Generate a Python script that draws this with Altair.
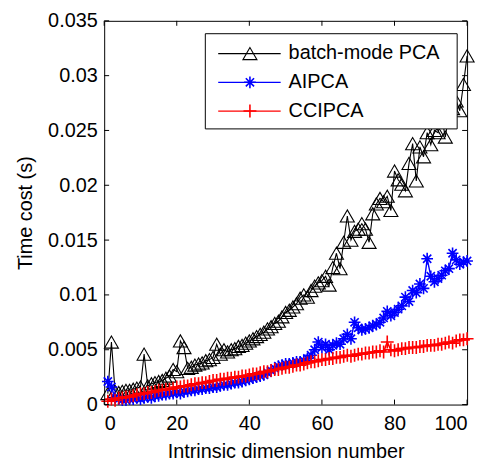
import altair as alt
import pandas as pd

x_vals = list(range(1, 101))

batch_pca = [
    0.0010, 0.0057, 0.0012, 0.0011, 0.0012, 0.0013, 0.0013, 0.0014, 0.0015, 0.0016,
    0.0046, 0.0017, 0.0019, 0.0020, 0.0021, 0.0022, 0.0024, 0.0026, 0.0032, 0.0030,
    0.0058, 0.0052, 0.0033, 0.0034, 0.0036, 0.0037, 0.0038, 0.0040, 0.0041, 0.0043,
    0.0055, 0.0046, 0.0050, 0.0048, 0.0050, 0.0051, 0.0053, 0.0054, 0.0056, 0.0058,
    0.0060, 0.0062, 0.0064, 0.0066, 0.0069, 0.0071, 0.0074, 0.0076, 0.0080, 0.0084,
    0.0086, 0.0089, 0.0092, 0.0097, 0.0100, 0.0098, 0.0104, 0.0108, 0.0111, 0.0113,
    0.0117, 0.0109, 0.0125, 0.0138, 0.0124, 0.0148, 0.0172, 0.0150, 0.0158, 0.0160,
    0.0165, 0.0160, 0.0148, 0.0174, 0.0183, 0.0188, 0.0185, 0.0190, 0.0177, 0.0213,
    0.0205, 0.0201, 0.0195, 0.0220, 0.0238, 0.0204, 0.0235, 0.0226, 0.0248, 0.0237,
    0.0250, 0.0248, 0.0262, 0.0244, 0.0265, 0.0270, 0.0277, 0.0268, 0.0292, 0.0318,
]

aipca = [
    0.0021, 0.0016, 0.0006, 0.0005, 0.0004, 0.0004, 0.0005, 0.0005, 0.0006, 0.0005,
    0.0006, 0.0007, 0.0006, 0.0008, 0.0008, 0.0009, 0.0009, 0.0010, 0.0010, 0.0011,
    0.0010, 0.0012, 0.0012, 0.0013, 0.0013, 0.0014, 0.0014, 0.0015, 0.0015, 0.0016,
    0.0016, 0.0017, 0.0018, 0.0018, 0.0019, 0.0020, 0.0020, 0.0021, 0.0022, 0.0023,
    0.0024, 0.0025, 0.0026, 0.0027, 0.0029, 0.0031, 0.0033, 0.0035, 0.0036, 0.0037,
    0.0037, 0.0038, 0.0039, 0.0039, 0.0040, 0.0042, 0.0045, 0.0050, 0.0057, 0.0052,
    0.0055, 0.0050, 0.0054, 0.0056, 0.0055, 0.0060, 0.0064, 0.0060, 0.0075, 0.0070,
    0.0068, 0.0069, 0.0070, 0.0072, 0.0073, 0.0075, 0.0079, 0.0085, 0.0081, 0.0084,
    0.0087, 0.0090, 0.0098, 0.0094, 0.0104, 0.0102, 0.0110, 0.0106, 0.0133, 0.0117,
    0.0112, 0.0115, 0.0118, 0.0122, 0.0124, 0.0138, 0.0132, 0.0128, 0.0130, 0.0131,
]

ccipca = [
    0.0003, 0.0005, 0.0004, 0.0006, 0.0006, 0.0007, 0.0007, 0.0008, 0.0009, 0.0010,
    0.0010, 0.0011, 0.0011, 0.0012, 0.0013, 0.0013, 0.0014, 0.0014, 0.0015, 0.0016,
    0.0016, 0.0017, 0.0017, 0.0018, 0.0019, 0.0019, 0.0020, 0.0020, 0.0021, 0.0022,
    0.0022, 0.0023, 0.0023, 0.0024, 0.0024, 0.0025, 0.0025, 0.0026, 0.0026, 0.0027,
    0.0028, 0.0028, 0.0029, 0.0030, 0.0030, 0.0031, 0.0032, 0.0032, 0.0033, 0.0034,
    0.0034, 0.0035, 0.0036, 0.0036, 0.0037, 0.0038, 0.0039, 0.0039, 0.0040, 0.0041,
    0.0041, 0.0042, 0.0042, 0.0043, 0.0043, 0.0044, 0.0045, 0.0044, 0.0045, 0.0046,
    0.0046, 0.0047, 0.0047, 0.0048, 0.0048, 0.0049, 0.0048, 0.0057, 0.0050, 0.0049,
    0.0050, 0.0051, 0.0051, 0.0052, 0.0052, 0.0052, 0.0053, 0.0053, 0.0054, 0.0054,
    0.0054, 0.0055, 0.0055, 0.0056, 0.0057, 0.0056, 0.0058, 0.0059, 0.0059, 0.0060,
]

series_names = ["batch-mode PCA", "AIPCA", "CCIPCA"]
series_colors = ["#000000", "#0000ff", "#ff0000"]
x_ticks = [0, 20, 40, 60, 80, 100]
y_ticks = [0, 0.005, 0.01, 0.015, 0.02, 0.025, 0.03, 0.035]

W, H = 366, 387
FONT = "Liberation Sans"

ASTERISK = "M-1,0L1,0M0,-1L0,1M-0.7,-0.7L0.7,0.7M-0.7,0.7L0.7,-0.7"
PLUS = "M-1,0L1,0M0,-1L0,1"
shapes = ["triangle-up", ASTERISK, PLUS]
sizes = [200, 140, 170]
stroke_ws = [1.1, 1.6, 1.6]
line_ws = [1.1, 1.4, 1.6]

xscale = alt.Scale(domain=[0, 100], nice=False, zero=False)
yscale = alt.Scale(domain=[0, 0.035], nice=False, zero=False)

layers = []
for name, ys, col, shp, sz, sw, lw in zip(series_names, [batch_pca, aipca, ccipca],
                                           series_colors, shapes, sizes, stroke_ws, line_ws):
    d = pd.DataFrame({"x": x_vals, "y": ys})
    base = alt.Chart(d)
    xenc = alt.X("x:Q", scale=xscale,
                 axis=alt.Axis(values=x_ticks, format="d", title="Intrinsic dimension number"))
    yenc = alt.Y("y:Q", scale=yscale,
                 axis=alt.Axis(values=y_ticks, format="~g", title="Time cost (s)"))
    line = base.mark_line(color=col, strokeWidth=lw).encode(x=xenc, y=yenc)
    pts = base.mark_point(shape=shp, size=sz, color=col, filled=False,
                          strokeWidth=sw, opacity=1).encode(x=xenc, y=yenc)
    layers += [line, pts]

# inward ticks on all four sides
xt = alt.Chart(pd.DataFrame({"t": x_ticks}))
yt = alt.Chart(pd.DataFrame({"t": y_ticks}))
tick_len = 5
tx = alt.X("t:Q", scale=xscale)
ty = alt.Y("t:Q", scale=yscale)
layers += [
    xt.mark_rule(color="black", strokeWidth=1).encode(x=tx, y=alt.value(H), y2=alt.value(H - tick_len)),
    xt.mark_rule(color="black", strokeWidth=1).encode(x=tx, y=alt.value(0), y2=alt.value(tick_len)),
    yt.mark_rule(color="black", strokeWidth=1).encode(y=ty, x=alt.value(0), x2=alt.value(tick_len)),
    yt.mark_rule(color="black", strokeWidth=1).encode(y=ty, x=alt.value(W), x2=alt.value(W - tick_len)),
]

# legend (drawn in pixel space)
leg = pd.DataFrame({
    "name": series_names,
    "col": series_colors,
    "py": [33, 62, 91],
})
legc = alt.Chart(leg)
box = alt.Chart(pd.DataFrame({"a": [0]})).mark_rect(
    fill="white", stroke="black", strokeWidth=1
).encode(x=alt.value(102), x2=alt.value(356), y=alt.value(13), y2=alt.value(109))
leg_lines = legc.mark_rule(strokeWidth=1.2).encode(
    x=alt.value(115), x2=alt.value(178),
    y=alt.Y("py:Q", scale=None),
    color=alt.Color("col:N", scale=None),
)
leg_pts = []
for i in range(3):
    leg_pts.append(
        alt.Chart(leg.iloc[[i]]).mark_point(
            shape=shapes[i], size=sizes[i], color=series_colors[i],
            filled=False, strokeWidth=stroke_ws[i], opacity=1
        ).encode(x=alt.value(147), y=alt.Y("py:Q", scale=None))
    )
leg_text = legc.mark_text(align="left", baseline="middle", fontSize=20, font=FONT,
                          color="black").encode(
    x=alt.value(186), y=alt.Y("py:Q", scale=None), text="name:N")

layers += [box, leg_lines] + leg_pts + [leg_text]

chart = alt.layer(*layers).properties(
    width=W, height=H,
    autosize=alt.AutoSizeParams(type="none"),
    padding={"left": 97, "top": 11, "right": 10, "bottom": 56},
).configure_view(
    stroke="black", strokeWidth=1
).configure_axis(
    grid=False, domain=False, ticks=False,
    labelFont=FONT, labelFontSize=20, labelColor="black",
    titleFont=FONT, titleFontSize=20, titleColor="black", titleFontWeight="normal",
).configure_axisY(
    labelPadding=7,
    titlePadding=12,
).configure_axisX(
    labelPadding=9,
    titlePadding=8,
)

chart.save("out.html", embed_options={"renderer": "svg", "actions": False})
